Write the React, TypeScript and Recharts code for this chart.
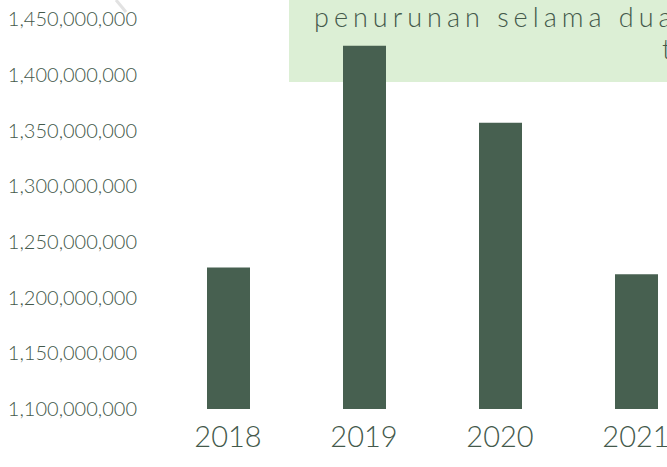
import { BarChart, Bar, XAxis, YAxis } from 'recharts';

const years = ['2018', '2019', '2020', '2021'];
const totals = [1227000000, 1426000000, 1357000000, 1221000000];
const yTicks = [1100000000, 1150000000, 1200000000, 1250000000, 1300000000, 1350000000, 1400000000, 1450000000];

const data = years.map((year, i) => ({ year, total: totals[i] }));

const textColor = '#44594b';
const barColor = '#476050';

const fmt = (v: number) => v.toLocaleString('en-US');

export default function App() {
  return (
    <div
      style={{
        position: 'fixed',
        left: 0,
        top: 0,
        width: 667,
        height: 467,
        overflow: 'hidden',
        background: '#fff',
        fontFamily: 'Lato, sans-serif',
      }}
    >
      {/* callout box behind the chart */}
      <div
        style={{
          position: 'absolute',
          left: 289,
          top: 0,
          width: 400,
          height: 82,
          background: '#dcefd5',
        }}
      />
      <div
        style={{
          position: 'absolute',
          left: 314,
          top: 0,
          whiteSpace: 'nowrap',
          fontSize: 27,
          fontFamily: 'Lato, sans-serif',
          fontWeight: 300,
          color: textColor,
          letterSpacing: 5,
        }}
      >
        penurunan selama dua
      </div>
      <div
        style={{
          position: 'absolute',
          left: 662,
          top: 32,
          whiteSpace: 'nowrap',
          fontSize: 27,
          fontFamily: 'Lato, sans-serif',
          fontWeight: 300,
          color: textColor,
        }}
      >
        tahun
      </div>
      <svg style={{ position: 'absolute', left: 0, top: 0 }} width={667} height={40}>
        <line x1={116} y1={0} x2={126} y2={12} stroke="#e2e2e2" strokeWidth={3} />
      </svg>
      <div style={{ position: 'absolute', left: 0, top: 0 }}>
        <BarChart
          width={720}
          height={467}
          data={data}
          margin={{ top: 19, right: 16, left: 0, bottom: 10 }}
        >
          <XAxis
            dataKey="year"
            axisLine={false}
            tickLine={false}
            tickSize={0}
            tickMargin={17}
            height={48}
            interval={0}
            tick={{ fill: textColor, fontSize: 29, fontWeight: 300, fontFamily: 'Lato, sans-serif' }}
          />
          <YAxis
            domain={[1100000000, 1450000000]}
            ticks={yTicks}
            allowDataOverflow
            axisLine={false}
            tickLine={false}
            tickSize={0}
            tickMargin={23}
            width={160}
            tickFormatter={fmt}
            tick={{ fill: textColor, fontSize: 20, fontWeight: 300, fontFamily: 'Lato, sans-serif' }}
          />
          <Bar dataKey="total" fill={barColor} barSize={43} isAnimationActive={false} />
        </BarChart>
      </div>
    </div>
  );
}
